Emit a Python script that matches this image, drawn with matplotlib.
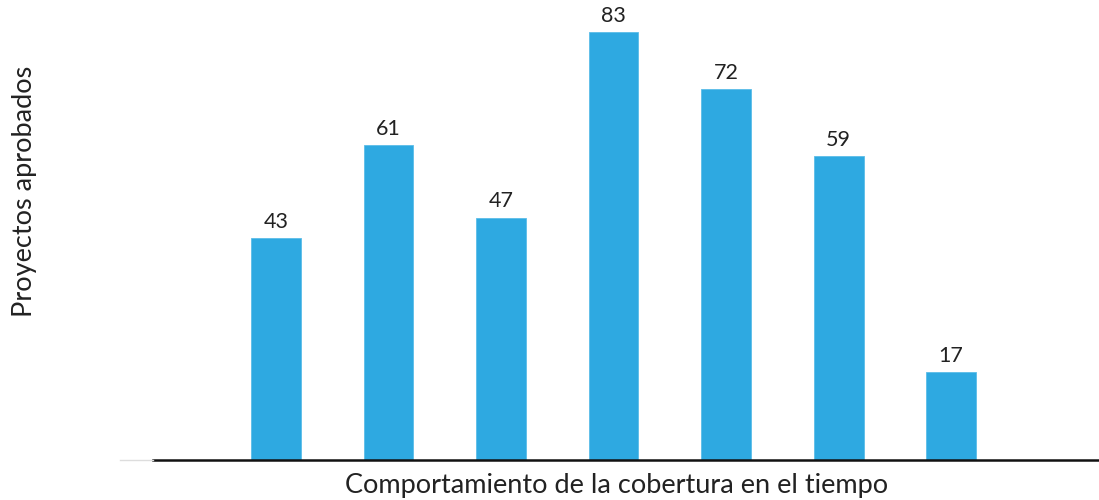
import matplotlib.pyplot as plt
from matplotlib.lines import Line2D

# datos
periodos = ["1", "2", "3", "4", "5", "6", "7"]
proyectos = [43, 61, 47, 83, 72, 59, 17]

plt.rcParams['font.family'] = ['Lato', 'DejaVu Sans']

fig = plt.figure(figsize=(10.99, 5.0), dpi=100)
ax = fig.add_axes([153 / 1099, 40 / 500, 946 / 1099, 460 / 500])

x = range(len(periodos))
bars = ax.bar(x, proyectos, width=0.444, color="#2EA9E1", edgecolor="#5BBDE8", linewidth=0.6)
for b, v in zip(bars, proyectos):
    ax.text(b.get_x() + b.get_width() / 2, v + 1.2, str(v),
            ha="center", va="bottom", fontsize=15.5, color="#222222")

ax.set_xlim(-1.093, 6 + 1.315)
ax.set_ylim(0, 89.2)
ax.set_xticks([])
ax.set_yticks([])
for s in ["top", "right", "left"]:
    ax.spines[s].set_visible(False)
ax.spines["bottom"].set_linewidth(1.8)
ax.spines["bottom"].set_color("#111111")

# linea gris tenue a la izquierda del eje
fig.add_artist(Line2D([120 / 1099, 153 / 1099], [40 / 500, 40 / 500],
                      color="#dddddd", linewidth=1))

fig.text(617 / 1099, 1 - 485 / 500, "Comportamiento de la cobertura en el tiempo",
         ha="center", va="center", fontsize=19.5, color="#222222")
fig.text(25 / 1099, 1 - 191 / 500, "Proyectos aprobados", rotation=90,
         ha="center", va="center", fontsize=19.5, color="#222222")

plt.savefig("out.png", dpi=100)
